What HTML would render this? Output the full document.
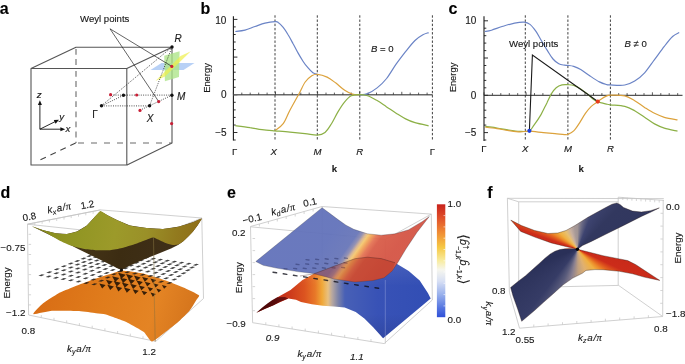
<!DOCTYPE html>
<html><head><meta charset="utf-8"><style>
html,body{margin:0;padding:0;background:#fff;}
#c{position:relative;width:685px;height:364px;overflow:hidden;background:#fff;font-family:"Liberation Sans",sans-serif;}
svg{position:absolute;left:0;top:0;}
svg text{font-family:"Liberation Sans",sans-serif;stroke:#1a1a1a;stroke-width:0.14px;}
svg{will-change:transform;}
</style></head><body><div id="c">
<svg width="685" height="364" viewBox="0 0 685 364">
<defs><linearGradient id="dor" gradientUnits="userSpaceOnUse" x1="40.0" y1="280.0" x2="200.0" y2="330.0"><stop offset="0.000" stop-color="#d86c14"/><stop offset="0.400" stop-color="#e07c1c"/><stop offset="0.700" stop-color="#e48424"/><stop offset="1.000" stop-color="#d0701a"/></linearGradient><linearGradient id="dol" gradientUnits="userSpaceOnUse" x1="30.0" y1="212.0" x2="202.0" y2="240.0"><stop offset="0.000" stop-color="#858a1c"/><stop offset="0.300" stop-color="#929624"/><stop offset="0.500" stop-color="#9c9a2a"/><stop offset="0.680" stop-color="#9a9028"/><stop offset="0.850" stop-color="#927a1e"/><stop offset="1.000" stop-color="#8e6c18"/></linearGradient><linearGradient id="ddk" gradientUnits="userSpaceOnUse" x1="60.0" y1="240.0" x2="180.0" y2="265.0"><stop offset="0.000" stop-color="#4a3a1a"/><stop offset="0.500" stop-color="#3c2c12"/><stop offset="1.000" stop-color="#40301a"/></linearGradient><linearGradient id="elo" gradientUnits="userSpaceOnUse" x1="256.0" y1="300.0" x2="430.0" y2="300.0"><stop offset="0.000" stop-color="#a82216"/><stop offset="0.100" stop-color="#c02a18"/><stop offset="0.195" stop-color="#cc3a1c"/><stop offset="0.280" stop-color="#dc5420"/><stop offset="0.340" stop-color="#e87828"/><stop offset="0.380" stop-color="#f0a838"/><stop offset="0.414" stop-color="#e8c080"/><stop offset="0.437" stop-color="#b8a8a0"/><stop offset="0.471" stop-color="#7e84a8"/><stop offset="0.511" stop-color="#4860b6"/><stop offset="0.700" stop-color="#3852b6"/><stop offset="1.000" stop-color="#324eb4"/></linearGradient><linearGradient id="elsh" gradientUnits="userSpaceOnUse" x1="0.0" y1="258.0" x2="0.0" y2="338.0"><stop offset="0.000" stop-color="#ffffff" stop-opacity="0.10"/><stop offset="0.350" stop-color="#ffffff" stop-opacity="0.00"/><stop offset="0.700" stop-color="#000020" stop-opacity="0.00"/><stop offset="1.000" stop-color="#000020" stop-opacity="0.12"/></linearGradient><linearGradient id="emr" gradientUnits="userSpaceOnUse" x1="256.0" y1="310.0" x2="290.0" y2="298.0"><stop offset="0.000" stop-color="#420606"/><stop offset="0.600" stop-color="#5a0c0c"/><stop offset="1.000" stop-color="#7a1410"/></linearGradient><linearGradient id="elh" gradientUnits="userSpaceOnUse" x1="0.0" y1="258.0" x2="0.0" y2="300.0"><stop offset="0.000" stop-color="#ffffff" stop-opacity="0.18"/><stop offset="1.000" stop-color="#ffffff" stop-opacity="0.00"/></linearGradient><linearGradient id="eup" gradientUnits="userSpaceOnUse" x1="332.6" y1="233.2" x2="381.4" y2="268.2"><stop offset="0.000" stop-color="#6272ba"/><stop offset="0.340" stop-color="#6876b8"/><stop offset="0.410" stop-color="#8e8cb0"/><stop offset="0.460" stop-color="#d8b490"/><stop offset="0.500" stop-color="#f4c870"/><stop offset="0.550" stop-color="#f0a458"/><stop offset="0.620" stop-color="#e47454"/><stop offset="0.700" stop-color="#d85c48"/><stop offset="1.000" stop-color="#d45444"/></linearGradient><linearGradient id="ecb" gradientUnits="userSpaceOnUse" x1="0.0" y1="204.3" x2="0.0" y2="317.2"><stop offset="0.000" stop-color="#c8221c"/><stop offset="0.120" stop-color="#e0502a"/><stop offset="0.250" stop-color="#f08c34"/><stop offset="0.380" stop-color="#f6c844"/><stop offset="0.500" stop-color="#f8eca0"/><stop offset="0.580" stop-color="#f6f6ee"/><stop offset="0.680" stop-color="#d8e0f4"/><stop offset="0.800" stop-color="#98b0ec"/><stop offset="0.920" stop-color="#5474e0"/><stop offset="1.000" stop-color="#3050d8"/></linearGradient></defs><text x="-0.2" y="13.5" font-size="16.0" text-anchor="start" font-weight="bold" fill="#000" >a</text><g stroke="#555555" stroke-width="1.1" fill="none" stroke-linejoin="round"><path d="M31,68.5 L126.8,68.5 L126.8,165 L31,165 Z"/><path d="M31,68.5 L76,47.2 L172,47.2 L126.8,68.5"/><path d="M172,47 L172,143 L127,165"/></g><g stroke="#6a6a6a" stroke-width="1.1" fill="none"><path d="M76,49 L76,66 M76,71 L76,143" stroke-dasharray="5.8,4.3"/><path d="M78,143 L172,143" stroke-dasharray="6,7"/><path d="M75.7,143 L39.2,160.3" stroke="#444" stroke-dasharray="6,5"/></g><g stroke="#111" stroke-width="0.9" fill="#111"><line x1="39.9" y1="129.2" x2="39.9" y2="103.5" /><path d="M39.9,100.2 L37.9,105 L41.9,105Z" stroke="none"/><line x1="39.9" y1="129.2" x2="62.0" y2="129.2" /><path d="M65.2,129.2 L60.4,127.2 L60.4,131.2Z" stroke="none"/><line x1="39.9" y1="129.2" x2="56.0" y2="121.2" /><path d="M59,119.7 L53.8,120.1 L55.6,123.7Z" stroke="none"/></g><text x="36.8" y="98.4" font-size="9.8" text-anchor="start" font-weight="normal" fill="#1a1a1a" font-style="italic" >z</text><text x="65.6" y="132.4" font-size="9.8" text-anchor="start" font-weight="normal" fill="#1a1a1a" font-style="italic" >x</text><text x="59.3" y="120.2" font-size="9.8" text-anchor="start" font-weight="normal" fill="#1a1a1a" font-style="italic" >y</text><path d="M150.5,70 L161.5,63 L194.5,63 L183.5,70Z" fill="#a6c6f4" fill-opacity="0.8"/><path d="M164.2,55.8 L179.6,51.3 L179,77 L164.9,81.2Z" fill="#ace486" fill-opacity="0.78"/><path d="M155.5,81 L165,76.5 L190.5,51.5 L180.5,56Z" fill="#eef04a" fill-opacity="0.7"/><g stroke="#222" stroke-width="0.8" fill="none" stroke-dasharray="1,1.3"><line x1="101.5" y1="105.9" x2="149.6" y2="105.9" /><line x1="101.5" y1="105.9" x2="123.7" y2="95.2" /><line x1="110.9" y1="95.1" x2="171.9" y2="95.1" /><line x1="140.0" y1="110.2" x2="171.9" y2="95.2" /><line x1="101.5" y1="105.7" x2="172.0" y2="47.0" /><line x1="149.6" y1="105.7" x2="172.0" y2="47.0" /></g><g stroke="#222" stroke-width="0.7"><line x1="110.0" y1="28.8" x2="171.8" y2="66.4" /><line x1="110.0" y1="28.8" x2="158.7" y2="101.6" /></g><text x="80.0" y="21.6" font-size="9.6" text-anchor="start" font-weight="normal" fill="#1a1a1a" >Weyl points</text><circle cx="101.5" cy="105.7" r="1.7" fill="#111"/><circle cx="123.5" cy="95.3" r="1.7" fill="#111"/><circle cx="171.9" cy="95.3" r="1.7" fill="#111"/><circle cx="149.6" cy="105.7" r="1.7" fill="#111"/><circle cx="172.0" cy="47.0" r="1.7" fill="#111"/><circle cx="110.6" cy="94.7" r="1.6" fill="#c81f36"/><circle cx="136.7" cy="95.0" r="1.6" fill="#c81f36"/><circle cx="158.7" cy="101.6" r="1.6" fill="#c81f36"/><circle cx="140.0" cy="110.4" r="1.6" fill="#c81f36"/><circle cx="171.6" cy="123.6" r="1.6" fill="#c81f36"/><circle cx="171.8" cy="66.4" r="1.6" fill="#c81f36"/><text x="174.5" y="42.0" font-size="10.0" text-anchor="start" font-weight="normal" fill="#1a1a1a" font-style="italic" >R</text><text x="177.0" y="99.6" font-size="10.0" text-anchor="start" font-weight="normal" fill="#1a1a1a" font-style="italic" >M</text><text x="146.8" y="121.6" font-size="10.0" text-anchor="start" font-weight="normal" fill="#1a1a1a" font-style="italic" >X</text><text x="92.2" y="117.8" font-size="10.0" text-anchor="start" font-weight="normal" fill="#1a1a1a" >Γ</text><text x="200.6" y="13.7" font-size="16.0" text-anchor="start" font-weight="bold" fill="#000" >b</text><line x1="233.4" y1="16.3" x2="233.4" y2="140.5" stroke="#1a1a1a" stroke-width="1.1"/><line x1="233.4" y1="140.0" x2="235.7" y2="140.0" stroke="#1a1a1a" stroke-width="0.9"/><line x1="233.4" y1="132.5" x2="237.4" y2="132.5" stroke="#1a1a1a" stroke-width="0.9"/><line x1="233.4" y1="125.0" x2="235.7" y2="125.0" stroke="#1a1a1a" stroke-width="0.9"/><line x1="233.4" y1="117.4" x2="235.7" y2="117.4" stroke="#1a1a1a" stroke-width="0.9"/><line x1="233.4" y1="109.9" x2="235.7" y2="109.9" stroke="#1a1a1a" stroke-width="0.9"/><line x1="233.4" y1="102.3" x2="235.7" y2="102.3" stroke="#1a1a1a" stroke-width="0.9"/><line x1="233.4" y1="94.8" x2="237.4" y2="94.8" stroke="#1a1a1a" stroke-width="0.9"/><line x1="233.4" y1="87.3" x2="235.7" y2="87.3" stroke="#1a1a1a" stroke-width="0.9"/><line x1="233.4" y1="79.7" x2="235.7" y2="79.7" stroke="#1a1a1a" stroke-width="0.9"/><line x1="233.4" y1="72.2" x2="235.7" y2="72.2" stroke="#1a1a1a" stroke-width="0.9"/><line x1="233.4" y1="64.6" x2="235.7" y2="64.6" stroke="#1a1a1a" stroke-width="0.9"/><line x1="233.4" y1="57.1" x2="237.4" y2="57.1" stroke="#1a1a1a" stroke-width="0.9"/><line x1="233.4" y1="49.6" x2="235.7" y2="49.6" stroke="#1a1a1a" stroke-width="0.9"/><line x1="233.4" y1="42.0" x2="235.7" y2="42.0" stroke="#1a1a1a" stroke-width="0.9"/><line x1="233.4" y1="34.5" x2="235.7" y2="34.5" stroke="#1a1a1a" stroke-width="0.9"/><line x1="233.4" y1="26.9" x2="235.7" y2="26.9" stroke="#1a1a1a" stroke-width="0.9"/><line x1="233.4" y1="19.4" x2="237.4" y2="19.4" stroke="#1a1a1a" stroke-width="0.9"/><line x1="233.4" y1="94.8" x2="432.7" y2="94.8" stroke="#6a6a6a" stroke-width="1.4"/><line x1="233.4" y1="94.8" x2="233.4" y2="91.8" stroke="#333" stroke-width="0.8"/><line x1="241.8" y1="94.8" x2="241.8" y2="92.6" stroke="#333" stroke-width="0.8"/><line x1="250.2" y1="94.8" x2="250.2" y2="92.6" stroke="#333" stroke-width="0.8"/><line x1="258.7" y1="94.8" x2="258.7" y2="92.6" stroke="#333" stroke-width="0.8"/><line x1="267.1" y1="94.8" x2="267.1" y2="92.6" stroke="#333" stroke-width="0.8"/><line x1="275.5" y1="94.8" x2="275.5" y2="91.8" stroke="#333" stroke-width="0.8"/><line x1="283.9" y1="94.8" x2="283.9" y2="92.6" stroke="#333" stroke-width="0.8"/><line x1="292.3" y1="94.8" x2="292.3" y2="92.6" stroke="#333" stroke-width="0.8"/><line x1="300.8" y1="94.8" x2="300.8" y2="92.6" stroke="#333" stroke-width="0.8"/><line x1="309.2" y1="94.8" x2="309.2" y2="92.6" stroke="#333" stroke-width="0.8"/><line x1="317.6" y1="94.8" x2="317.6" y2="91.8" stroke="#333" stroke-width="0.8"/><line x1="326.0" y1="94.8" x2="326.0" y2="92.6" stroke="#333" stroke-width="0.8"/><line x1="334.4" y1="94.8" x2="334.4" y2="92.6" stroke="#333" stroke-width="0.8"/><line x1="342.9" y1="94.8" x2="342.9" y2="92.6" stroke="#333" stroke-width="0.8"/><line x1="351.3" y1="94.8" x2="351.3" y2="92.6" stroke="#333" stroke-width="0.8"/><line x1="359.7" y1="94.8" x2="359.7" y2="91.8" stroke="#333" stroke-width="0.8"/><line x1="368.1" y1="94.8" x2="368.1" y2="92.6" stroke="#333" stroke-width="0.8"/><line x1="376.5" y1="94.8" x2="376.5" y2="92.6" stroke="#333" stroke-width="0.8"/><line x1="385.0" y1="94.8" x2="385.0" y2="92.6" stroke="#333" stroke-width="0.8"/><line x1="393.4" y1="94.8" x2="393.4" y2="92.6" stroke="#333" stroke-width="0.8"/><line x1="401.8" y1="94.8" x2="401.8" y2="91.8" stroke="#333" stroke-width="0.8"/><line x1="410.2" y1="94.8" x2="410.2" y2="92.6" stroke="#333" stroke-width="0.8"/><line x1="418.6" y1="94.8" x2="418.6" y2="92.6" stroke="#333" stroke-width="0.8"/><line x1="427.1" y1="94.8" x2="427.1" y2="92.6" stroke="#333" stroke-width="0.8"/><line x1="275.0" y1="15.3" x2="275.0" y2="140.0" stroke="#2a2a2a" stroke-width="0.9" stroke-dasharray="2.4,1.8"/><line x1="317.3" y1="15.3" x2="317.3" y2="140.0" stroke="#2a2a2a" stroke-width="0.9" stroke-dasharray="2.4,1.8"/><line x1="359.8" y1="15.3" x2="359.8" y2="140.0" stroke="#2a2a2a" stroke-width="0.9" stroke-dasharray="2.4,1.8"/><line x1="432.4" y1="15.3" x2="432.4" y2="140.0" stroke="#2a2a2a" stroke-width="0.9" stroke-dasharray="2.4,1.8"/><path d="M235.3,31.5 C236.9,31.3 241.7,30.9 245.0,30.1 C248.3,29.3 251.7,27.6 255.0,26.5 C258.3,25.4 261.7,24.0 265.0,23.2 C268.3,22.4 272.8,21.8 275.0,21.7 C277.2,21.6 276.8,21.4 278.2,22.4 C279.6,23.3 281.5,25.3 283.2,27.4 C284.9,29.5 286.5,32.1 288.1,34.8 C289.8,37.5 291.5,40.8 293.1,43.8 C294.8,46.8 296.4,50.0 298.0,52.9 C299.6,55.8 301.4,58.7 303.0,61.2 C304.6,63.7 306.2,65.8 307.9,67.7 C309.5,69.6 311.3,71.6 312.9,72.7 C314.5,73.8 316.6,74.0 317.3,74.2" fill="none" stroke="#6b84c6" stroke-width="1.2"/><path d="M359.7,94.9 C361.0,94.7 364.7,94.8 367.6,93.6 C370.5,92.4 373.9,90.4 377.1,87.9 C380.3,85.4 383.4,82.5 386.6,78.5 C389.8,74.5 392.9,68.7 396.1,64.2 C399.3,59.7 402.5,55.6 405.6,51.6 C408.8,47.6 412.1,43.3 415.0,40.5 C417.9,37.7 420.6,36.1 422.9,34.8 C425.2,33.5 427.7,33.0 428.6,32.6" fill="none" stroke="#6b84c6" stroke-width="1.2"/><path d="M275.0,130.8 C276.4,129.6 280.7,127.1 283.2,123.7 C285.7,120.3 287.2,115.4 289.8,110.5 C292.4,105.6 296.0,99.2 298.6,94.5 C301.2,89.8 303.0,85.1 305.2,82.0 C307.4,78.9 309.8,77.1 311.8,75.8 C313.8,74.5 314.8,74.1 317.3,74.3 C319.9,74.5 324.0,75.6 327.1,77.1 C330.2,78.6 333.0,80.9 335.9,83.1 C338.8,85.3 341.9,88.5 344.7,90.3 C347.4,92.1 349.9,93.4 352.4,94.1 C354.9,94.8 358.5,94.6 359.7,94.7" fill="none" stroke="#dca23c" stroke-width="1.2"/><path d="M235.3,125.7 C237.8,126.0 245.6,126.9 250.0,127.6 C254.4,128.2 257.8,129.1 262.0,129.6 C266.2,130.1 270.3,130.4 275.0,130.8 C279.7,131.2 285.0,131.6 290.0,132.1 C295.0,132.6 300.4,133.1 305.0,133.6 C309.6,134.1 314.0,135.4 317.3,135.2 C320.6,135.0 322.6,134.4 325.0,132.5 C327.4,130.6 329.3,127.2 331.5,123.7 C333.7,120.2 335.9,115.2 338.1,111.6 C340.3,107.9 342.5,104.4 344.7,101.8 C346.9,99.2 348.8,97.0 351.3,95.8 C353.8,94.6 357.0,94.6 359.7,94.6 C362.4,94.6 364.7,94.8 367.6,95.8 C370.5,96.8 373.9,98.8 377.1,100.6 C380.3,102.4 383.4,104.8 386.6,106.9 C389.8,109.0 392.9,111.2 396.1,113.2 C399.3,115.2 402.5,117.3 405.6,118.9 C408.8,120.5 411.2,121.6 415.0,122.7 C418.8,123.8 426.3,125.3 428.6,125.8" fill="none" stroke="#8cb046" stroke-width="1.2"/><text x="226.4" y="23.8" font-size="10.0" text-anchor="end" font-weight="normal" fill="#1a1a1a" >10</text><text x="226.6" y="98.4" font-size="10.0" text-anchor="end" font-weight="normal" fill="#1a1a1a" >0</text><text x="226.6" y="135.6" font-size="10.0" text-anchor="end" font-weight="normal" fill="#1a1a1a" >−5</text><text x="209.8" y="78.0" font-size="9.4" text-anchor="middle" font-weight="normal" fill="#1a1a1a" transform="rotate(-90 209.8 78)">Energy</text><text x="371.0" y="51.6" font-size="9.6" text-anchor="start" font-weight="normal" fill="#1a1a1a" ><tspan font-style="italic">B</tspan> = 0</text><text x="234.6" y="154.8" font-size="9.6" text-anchor="middle" font-weight="normal" fill="#1a1a1a" >Γ</text><text x="273.8" y="154.8" font-size="9.6" text-anchor="middle" font-weight="normal" fill="#1a1a1a" font-style="italic" >X</text><text x="317.5" y="154.8" font-size="9.6" text-anchor="middle" font-weight="normal" fill="#1a1a1a" font-style="italic" >M</text><text x="359.8" y="154.8" font-size="9.6" text-anchor="middle" font-weight="normal" fill="#1a1a1a" font-style="italic" >R</text><text x="432.4" y="154.8" font-size="9.6" text-anchor="middle" font-weight="normal" fill="#1a1a1a" >Γ</text><text x="334.4" y="171.8" font-size="9.6" text-anchor="middle" font-weight="bold" fill="#1a1a1a" >k</text><text x="448.6" y="13.6" font-size="16.0" text-anchor="start" font-weight="bold" fill="#000" >c</text><line x1="484.0" y1="16.2" x2="484.0" y2="141.0" stroke="#1a1a1a" stroke-width="1.1"/><line x1="484.0" y1="140.0" x2="486.3" y2="140.0" stroke="#1a1a1a" stroke-width="0.9"/><line x1="484.0" y1="132.6" x2="488.0" y2="132.6" stroke="#1a1a1a" stroke-width="0.9"/><line x1="484.0" y1="125.1" x2="486.3" y2="125.1" stroke="#1a1a1a" stroke-width="0.9"/><line x1="484.0" y1="117.7" x2="486.3" y2="117.7" stroke="#1a1a1a" stroke-width="0.9"/><line x1="484.0" y1="110.2" x2="486.3" y2="110.2" stroke="#1a1a1a" stroke-width="0.9"/><line x1="484.0" y1="102.8" x2="486.3" y2="102.8" stroke="#1a1a1a" stroke-width="0.9"/><line x1="484.0" y1="95.3" x2="488.0" y2="95.3" stroke="#1a1a1a" stroke-width="0.9"/><line x1="484.0" y1="87.8" x2="486.3" y2="87.8" stroke="#1a1a1a" stroke-width="0.9"/><line x1="484.0" y1="80.4" x2="486.3" y2="80.4" stroke="#1a1a1a" stroke-width="0.9"/><line x1="484.0" y1="72.9" x2="486.3" y2="72.9" stroke="#1a1a1a" stroke-width="0.9"/><line x1="484.0" y1="65.5" x2="486.3" y2="65.5" stroke="#1a1a1a" stroke-width="0.9"/><line x1="484.0" y1="58.0" x2="488.0" y2="58.0" stroke="#1a1a1a" stroke-width="0.9"/><line x1="484.0" y1="50.6" x2="486.3" y2="50.6" stroke="#1a1a1a" stroke-width="0.9"/><line x1="484.0" y1="43.1" x2="486.3" y2="43.1" stroke="#1a1a1a" stroke-width="0.9"/><line x1="484.0" y1="35.7" x2="486.3" y2="35.7" stroke="#1a1a1a" stroke-width="0.9"/><line x1="484.0" y1="28.2" x2="486.3" y2="28.2" stroke="#1a1a1a" stroke-width="0.9"/><line x1="484.0" y1="20.8" x2="488.0" y2="20.8" stroke="#1a1a1a" stroke-width="0.9"/><line x1="484.0" y1="95.3" x2="682.5" y2="95.3" stroke="#2a2a2a" stroke-width="1.0"/><line x1="484.0" y1="95.3" x2="484.0" y2="92.3" stroke="#333" stroke-width="0.8"/><line x1="492.4" y1="95.3" x2="492.4" y2="93.1" stroke="#333" stroke-width="0.8"/><line x1="500.8" y1="95.3" x2="500.8" y2="93.1" stroke="#333" stroke-width="0.8"/><line x1="509.3" y1="95.3" x2="509.3" y2="93.1" stroke="#333" stroke-width="0.8"/><line x1="517.7" y1="95.3" x2="517.7" y2="93.1" stroke="#333" stroke-width="0.8"/><line x1="526.1" y1="95.3" x2="526.1" y2="92.3" stroke="#333" stroke-width="0.8"/><line x1="534.5" y1="95.3" x2="534.5" y2="93.1" stroke="#333" stroke-width="0.8"/><line x1="542.9" y1="95.3" x2="542.9" y2="93.1" stroke="#333" stroke-width="0.8"/><line x1="551.4" y1="95.3" x2="551.4" y2="93.1" stroke="#333" stroke-width="0.8"/><line x1="559.8" y1="95.3" x2="559.8" y2="93.1" stroke="#333" stroke-width="0.8"/><line x1="568.2" y1="95.3" x2="568.2" y2="92.3" stroke="#333" stroke-width="0.8"/><line x1="576.6" y1="95.3" x2="576.6" y2="93.1" stroke="#333" stroke-width="0.8"/><line x1="585.0" y1="95.3" x2="585.0" y2="93.1" stroke="#333" stroke-width="0.8"/><line x1="593.5" y1="95.3" x2="593.5" y2="93.1" stroke="#333" stroke-width="0.8"/><line x1="601.9" y1="95.3" x2="601.9" y2="93.1" stroke="#333" stroke-width="0.8"/><line x1="610.3" y1="95.3" x2="610.3" y2="92.3" stroke="#333" stroke-width="0.8"/><line x1="618.7" y1="95.3" x2="618.7" y2="93.1" stroke="#333" stroke-width="0.8"/><line x1="627.1" y1="95.3" x2="627.1" y2="93.1" stroke="#333" stroke-width="0.8"/><line x1="635.6" y1="95.3" x2="635.6" y2="93.1" stroke="#333" stroke-width="0.8"/><line x1="644.0" y1="95.3" x2="644.0" y2="93.1" stroke="#333" stroke-width="0.8"/><line x1="652.4" y1="95.3" x2="652.4" y2="92.3" stroke="#333" stroke-width="0.8"/><line x1="660.8" y1="95.3" x2="660.8" y2="93.1" stroke="#333" stroke-width="0.8"/><line x1="669.2" y1="95.3" x2="669.2" y2="93.1" stroke="#333" stroke-width="0.8"/><line x1="677.7" y1="95.3" x2="677.7" y2="93.1" stroke="#333" stroke-width="0.8"/><line x1="525.3" y1="15.3" x2="525.3" y2="139.5" stroke="#2a2a2a" stroke-width="0.9" stroke-dasharray="2.4,1.8"/><line x1="567.9" y1="15.3" x2="567.9" y2="139.5" stroke="#2a2a2a" stroke-width="0.9" stroke-dasharray="2.4,1.8"/><line x1="610.4" y1="15.3" x2="610.4" y2="139.5" stroke="#2a2a2a" stroke-width="0.9" stroke-dasharray="2.4,1.8"/><path d="M484.8,31.5 C485.9,31.3 488.5,31.1 491.5,30.2 C494.5,29.3 499.1,27.5 503.0,26.3 C506.9,25.1 511.1,23.8 514.6,23.1 C518.1,22.4 521.6,21.9 524.2,22.1 C526.8,22.3 528.1,22.9 530.0,24.4 C531.9,25.9 533.9,28.5 535.8,31.2 C537.7,33.9 539.6,37.6 541.5,40.8 C543.4,44.0 545.4,47.4 547.3,50.4 C549.2,53.4 551.1,56.8 553.0,59.0 C554.9,61.2 556.9,62.8 558.8,63.8 C560.7,64.8 563.1,64.9 564.6,65.2 C566.1,65.5 566.5,65.2 568.0,65.4 C569.5,65.6 571.6,65.7 573.7,66.4 C575.8,67.1 578.0,67.9 580.7,69.5 C583.4,71.1 587.0,73.9 590.1,76.0 C593.2,78.1 596.7,80.5 599.4,81.9 C602.1,83.3 604.6,84.0 606.4,84.5 C608.2,85.0 607.3,84.8 610.4,84.9 C613.5,85.0 620.8,85.7 624.8,85.0 C628.8,84.3 631.4,83.0 634.7,81.0 C638.0,79.0 641.3,76.4 644.6,72.8 C647.9,69.2 651.2,64.0 654.5,59.6 C657.8,55.2 661.3,50.2 664.3,46.4 C667.3,42.5 670.1,38.8 672.6,36.5 C675.1,34.2 678.1,33.2 679.2,32.5" fill="none" stroke="#6b84c6" stroke-width="1.2"/><path d="M485.3,126.4 C487.2,126.7 493.1,127.4 497.0,128.0 C500.9,128.6 505.0,129.4 508.8,130.0 C512.6,130.6 516.6,131.2 520.0,131.3 C523.4,131.5 527.0,131.9 529.3,130.9 C531.6,129.9 532.0,127.8 534.0,125.1 C536.0,122.4 538.9,118.3 541.0,114.6 C543.1,110.9 545.1,106.4 546.9,102.9 C548.6,99.4 550.0,96.1 551.5,93.6 C553.0,91.1 554.5,89.2 556.2,87.7 C558.0,86.2 560.0,85.4 562.0,84.9 C564.0,84.4 565.9,84.6 567.9,84.7 C569.9,84.8 571.6,84.7 573.7,85.4 C575.8,86.1 578.4,87.4 580.7,88.9 C583.1,90.4 585.6,92.5 587.8,94.3 C589.9,96.0 591.9,98.2 593.6,99.4 C595.3,100.6 596.4,101.1 597.8,101.7 C599.2,102.3 600.4,102.5 601.8,102.9 C603.2,103.3 605.0,103.8 606.4,104.1 C607.8,104.4 607.3,104.4 610.4,104.8 C613.5,105.2 620.8,105.4 624.8,106.4 C628.8,107.4 631.4,108.9 634.7,110.7 C638.0,112.5 641.3,115.1 644.6,117.3 C647.9,119.5 651.2,122.1 654.5,123.9 C657.8,125.7 660.5,126.9 664.3,128.1 C668.1,129.3 675.3,130.6 677.5,131.1" fill="none" stroke="#8cb046" stroke-width="1.2"/><path d="M485.3,127.2 C487.2,127.4 493.1,128.0 497.0,128.6 C500.9,129.2 505.0,130.1 508.8,130.6 C512.6,131.1 516.6,131.7 520.0,131.8 C523.4,131.9 525.4,131.1 529.3,131.2 C533.2,131.3 539.1,132.2 543.4,132.6 C547.7,133.0 551.5,133.4 555.0,133.7 C558.5,134.0 562.2,134.5 564.4,134.6 C566.5,134.7 566.3,135.0 567.9,134.4 C569.5,133.8 571.8,132.8 573.7,130.9 C575.7,129.0 577.7,125.7 579.6,122.8 C581.5,119.9 583.5,116.1 585.4,113.4 C587.3,110.7 589.2,108.4 591.3,106.4 C593.4,104.5 596.2,102.9 597.8,101.7 C599.3,100.5 599.4,100.2 600.6,99.4 C601.9,98.6 603.7,97.3 605.3,96.6 C606.9,95.9 607.1,95.3 610.4,95.2 C613.6,95.1 620.8,94.9 624.8,95.8 C628.8,96.7 631.4,98.9 634.7,100.8 C638.0,102.7 641.3,105.3 644.6,107.4 C647.9,109.5 651.2,111.7 654.5,113.3 C657.8,114.9 660.5,116.2 664.3,117.3 C668.1,118.4 675.3,119.5 677.5,119.9" fill="none" stroke="#dca23c" stroke-width="1.2"/><path d="M529.4,130.6 L532.4,55 L597.8,101.5" fill="none" stroke="#1a1a1a" stroke-width="1.1"/><circle cx="529.4" cy="130.8" r="2.1" fill="#2040e0"/><circle cx="597.8" cy="101.6" r="2.1" fill="#e83a1c"/><text x="509.0" y="46.6" font-size="9.6" text-anchor="start" font-weight="normal" fill="#1a1a1a" >Weyl points</text><text x="476.4" y="24.4" font-size="10.0" text-anchor="end" font-weight="normal" fill="#1a1a1a" >10</text><text x="476.3" y="98.8" font-size="10.0" text-anchor="end" font-weight="normal" fill="#1a1a1a" >0</text><text x="476.3" y="136.0" font-size="10.0" text-anchor="end" font-weight="normal" fill="#1a1a1a" >−5</text><text x="456.0" y="77.5" font-size="9.4" text-anchor="middle" font-weight="normal" fill="#1a1a1a" transform="rotate(-90 456 77.5)">Energy</text><text x="624.5" y="46.8" font-size="9.6" text-anchor="start" font-weight="normal" fill="#1a1a1a" ><tspan font-style="italic">B</tspan> ≠ 0</text><text x="483.8" y="151.9" font-size="9.6" text-anchor="middle" font-weight="normal" fill="#1a1a1a" >Γ</text><text x="525.3" y="151.9" font-size="9.6" text-anchor="middle" font-weight="normal" fill="#1a1a1a" font-style="italic" >X</text><text x="567.9" y="151.9" font-size="9.6" text-anchor="middle" font-weight="normal" fill="#1a1a1a" font-style="italic" >M</text><text x="610.4" y="151.9" font-size="9.6" text-anchor="middle" font-weight="normal" fill="#1a1a1a" font-style="italic" >R</text><text x="581.2" y="172.0" font-size="9.6" text-anchor="middle" font-weight="bold" fill="#1a1a1a" >k</text><text x="0.4" y="198.2" font-size="16.0" text-anchor="start" font-weight="bold" fill="#000" >d</text><g stroke="#c4c4c4" stroke-width="0.8" fill="none"><path d="M27.5,224.2 L100.4,209.9 L201.8,218 L203.5,298.5 L155.7,341.4 L28.6,315 Z"/><line x1="27.5" y1="224.2" x2="153.0" y2="237.6" /><line x1="153.0" y1="237.6" x2="201.8" y2="218.0" /><line x1="153.5" y1="237.6" x2="155.2" y2="341.4" /></g><line x1="34.8" y1="222.8" x2="34.8" y2="225.3" stroke="#c4c4c4" stroke-width="0.7"/><line x1="42.1" y1="221.3" x2="42.1" y2="223.8" stroke="#c4c4c4" stroke-width="0.7"/><line x1="49.4" y1="219.9" x2="49.4" y2="222.4" stroke="#c4c4c4" stroke-width="0.7"/><line x1="56.7" y1="218.5" x2="56.7" y2="221.0" stroke="#c4c4c4" stroke-width="0.7"/><line x1="64.0" y1="217.1" x2="64.0" y2="219.6" stroke="#c4c4c4" stroke-width="0.7"/><line x1="71.2" y1="215.6" x2="71.2" y2="218.1" stroke="#c4c4c4" stroke-width="0.7"/><line x1="78.5" y1="214.2" x2="78.5" y2="216.7" stroke="#c4c4c4" stroke-width="0.7"/><line x1="85.8" y1="212.8" x2="85.8" y2="215.3" stroke="#c4c4c4" stroke-width="0.7"/><line x1="93.1" y1="211.3" x2="93.1" y2="213.8" stroke="#c4c4c4" stroke-width="0.7"/><line x1="41.3" y1="317.6" x2="41.3" y2="315.1" stroke="#c4c4c4" stroke-width="0.7"/><line x1="54.0" y1="320.3" x2="54.0" y2="317.8" stroke="#c4c4c4" stroke-width="0.7"/><line x1="66.7" y1="322.9" x2="66.7" y2="320.4" stroke="#c4c4c4" stroke-width="0.7"/><line x1="79.4" y1="325.6" x2="79.4" y2="323.1" stroke="#c4c4c4" stroke-width="0.7"/><line x1="92.2" y1="328.2" x2="92.2" y2="325.7" stroke="#c4c4c4" stroke-width="0.7"/><line x1="104.9" y1="330.8" x2="104.9" y2="328.3" stroke="#c4c4c4" stroke-width="0.7"/><line x1="117.6" y1="333.5" x2="117.6" y2="331.0" stroke="#c4c4c4" stroke-width="0.7"/><line x1="130.3" y1="336.1" x2="130.3" y2="333.6" stroke="#c4c4c4" stroke-width="0.7"/><line x1="143.0" y1="338.8" x2="143.0" y2="336.3" stroke="#c4c4c4" stroke-width="0.7"/><line x1="28.6" y1="234.3" x2="31.1" y2="234.3" stroke="#c4c4c4" stroke-width="0.7"/><line x1="28.6" y1="244.4" x2="31.1" y2="244.4" stroke="#c4c4c4" stroke-width="0.7"/><line x1="28.6" y1="254.5" x2="31.1" y2="254.5" stroke="#c4c4c4" stroke-width="0.7"/><line x1="28.6" y1="264.6" x2="31.1" y2="264.6" stroke="#c4c4c4" stroke-width="0.7"/><line x1="28.6" y1="274.6" x2="31.1" y2="274.6" stroke="#c4c4c4" stroke-width="0.7"/><line x1="28.6" y1="284.7" x2="31.1" y2="284.7" stroke="#c4c4c4" stroke-width="0.7"/><line x1="28.6" y1="294.8" x2="31.1" y2="294.8" stroke="#c4c4c4" stroke-width="0.7"/><line x1="28.6" y1="304.9" x2="31.1" y2="304.9" stroke="#c4c4c4" stroke-width="0.7"/><path d="M33.3,314.1 C32.6,313.5 41.0,305.0 43.1,303.3 C45.2,301.6 55.7,294.9 58.2,293.5 C60.7,292.1 70.8,288.0 73.3,287.0 C75.8,286.0 85.9,282.1 88.4,281.2 C90.9,280.3 101.3,276.7 103.5,276.0 C105.7,275.3 113.5,272.8 115.0,272.4 C116.5,272.0 120.2,270.9 121.5,270.8 C122.8,270.7 128.2,271.3 130.0,271.5 C131.8,271.7 140.9,273.0 143.0,273.5 C145.1,274.0 152.9,276.4 155.0,277.0 C157.1,277.6 165.3,280.3 167.7,281.2 C170.1,282.1 181.8,286.8 184.1,287.8 C186.4,288.8 193.7,292.3 195.0,293.0 C196.3,293.7 199.1,295.1 199.2,295.7 C199.3,296.3 197.3,298.5 196.5,299.7 C195.7,300.9 191.2,308.7 189.7,310.5 C188.2,312.3 180.9,319.5 178.9,321.3 C176.9,323.1 167.7,330.4 165.4,332.1 C163.2,333.8 153.7,341.6 151.9,341.6 C150.1,341.6 145.8,333.7 143.8,332.1 C141.8,330.5 130.8,324.2 127.6,322.7 C124.4,321.2 108.6,315.4 106.0,314.6 C103.4,313.8 98.2,313.6 96.0,313.3 C93.8,313.0 82.7,311.2 79.0,311.0 C75.3,310.8 55.8,310.5 52.0,310.8 C48.2,311.1 34.0,314.7 33.3,314.1Z" fill="url(#dor)"/><line x1="154.2" y1="296.0" x2="155.2" y2="341.4" stroke="#b05a10" stroke-width="0.7" stroke-opacity="0.6"/><path d="M99.3,283.5 l6.3,1.6 l-3.5,3.3 Z M107.3,284.8 l6.6,1.7 l-3.7,3.4 Z M115.5,286.1 l6.7,1.8 l-3.8,3.5 Z M123.9,287.6 l6.6,1.7 l-3.7,3.4 Z M132.6,289.2 l6.2,1.6 l-3.5,3.3 Z M141.5,290.8 l5.8,1.5 l-3.3,3.0 Z M150.5,292.5 l5.3,1.4 l-3.0,2.8 Z M105.9,279.7 l6.8,1.8 l-3.8,3.5 Z M113.7,281.0 l7.0,1.8 l-4.0,3.7 Z M121.8,282.4 l6.9,1.8 l-3.9,3.6 Z M130.2,283.8 l6.6,1.7 l-3.7,3.4 Z M138.8,285.4 l6.1,1.6 l-3.5,3.2 Z M147.5,287.0 l5.6,1.5 l-3.2,2.9 Z M156.3,288.6 l5.1,1.3 l-2.9,2.7 Z M112.1,276.2 l7.2,1.9 l-4.1,3.8 Z M119.9,277.4 l7.3,1.9 l-4.1,3.8 Z M128.0,278.8 l6.9,1.8 l-3.9,3.6 Z M136.3,280.3 l6.5,1.7 l-3.6,3.4 Z M144.7,281.8 l5.9,1.5 l-3.4,3.1 Z M153.2,283.3 l5.4,1.4 l-3.1,2.8 Z M161.9,284.9 l4.9,1.3 l-2.7,2.5 Z M118.1,272.8 l7.6,2.0 l-4.3,4.0 Z M125.9,274.1 l7.2,1.9 l-4.1,3.8 Z M133.9,275.6 l6.7,1.8 l-3.8,3.5 Z M142.1,277.0 l6.2,1.6 l-3.5,3.2 Z M150.4,278.4 l5.7,1.5 l-3.2,3.0 Z" fill="#1a0e04" opacity="0.85"/><path d="M38.4,275.8 L41.8,274.3 L44.6,274.8 L41.4,276.3 Z M45.6,277.0 L49.0,275.5 L51.8,276.0 L48.6,277.5 Z M52.9,278.3 L56.3,276.8 L59.1,277.3 L55.9,278.8 Z M60.4,279.5 L63.8,278.0 L66.6,278.5 L63.4,280.0 Z M67.9,280.8 L71.3,279.3 L74.1,279.8 L70.9,281.3 Z M75.5,282.1 L78.9,280.6 L81.7,281.1 L78.5,282.6 Z M83.3,283.5 L86.7,282.0 L89.5,282.5 L86.3,284.0 Z M91.2,284.8 L94.6,283.3 L97.4,283.8 L94.2,285.3 Z M46.2,272.7 L49.6,271.2 L52.4,271.7 L49.2,273.2 Z M53.3,273.8 L56.7,272.3 L59.5,272.8 L56.3,274.3 Z M60.5,275.0 L63.9,273.5 L66.7,274.0 L63.5,275.5 Z M67.8,276.3 L71.2,274.8 L74.0,275.3 L70.8,276.8 Z M75.2,277.5 L78.6,276.0 L81.4,276.5 L78.2,278.0 Z M82.7,278.7 L86.1,277.2 L88.9,277.7 L85.7,279.2 Z M90.3,280.0 L93.7,278.5 L96.5,279.0 L93.3,280.5 Z M98.1,281.3 L101.5,279.8 L104.3,280.3 L101.1,281.8 Z M53.7,269.7 L57.1,268.2 L59.9,268.7 L56.7,270.2 Z M60.7,270.8 L64.1,269.3 L66.9,269.8 L63.7,271.3 Z M67.7,271.9 L71.1,270.4 L73.9,270.9 L70.7,272.4 Z M74.9,273.1 L78.3,271.6 L81.1,272.1 L77.9,273.6 Z M82.2,274.3 L85.6,272.8 L88.4,273.3 L85.2,274.8 Z M89.6,275.5 L93.0,274.0 L95.8,274.5 L92.6,276.0 Z M97.1,276.7 L100.5,275.2 L103.3,275.7 L100.1,277.2 Z M104.6,277.9 L108.0,276.4 L110.8,276.9 L107.6,278.4 Z M60.8,266.8 L64.2,265.3 L67.0,265.8 L63.8,267.3 Z M67.7,267.9 L71.1,266.4 L73.9,266.9 L70.7,268.4 Z M74.6,269.0 L78.0,267.5 L80.8,268.0 L77.6,269.5 Z M81.7,270.1 L85.1,268.6 L87.9,269.1 L84.7,270.6 Z M88.8,271.2 L92.2,269.7 L95.0,270.2 L91.8,271.7 Z M96.1,272.4 L99.5,270.9 L102.3,271.4 L99.1,272.9 Z M103.5,273.6 L106.9,272.1 L109.7,272.6 L106.5,274.1 Z M110.9,274.7 L114.3,273.2 L117.1,273.7 L113.9,275.2 Z M158.0,282.2 L161.4,280.7 L164.2,281.2 L161.0,282.7 Z M166.3,283.5 L169.7,282.0 L172.5,282.5 L169.3,284.0 Z M67.6,264.1 L71.0,262.6 L73.8,263.1 L70.6,264.6 Z M74.4,265.1 L77.8,263.6 L80.6,264.1 L77.4,265.6 Z M81.2,266.2 L84.6,264.7 L87.4,265.2 L84.2,266.7 Z M88.2,267.2 L91.6,265.7 L94.4,266.2 L91.2,267.7 Z M95.2,268.3 L98.6,266.8 L101.4,267.3 L98.2,268.8 Z M102.3,269.4 L105.7,267.9 L108.5,268.4 L105.3,269.9 Z M109.6,270.6 L113.0,269.1 L115.8,269.6 L112.6,271.1 Z M116.9,271.7 L120.3,270.2 L123.1,270.7 L119.9,272.2 Z M124.3,272.8 L127.7,271.3 L130.5,271.8 L127.3,273.3 Z M131.9,274.0 L135.3,272.5 L138.1,273.0 L134.9,274.5 Z M139.5,275.2 L142.9,273.7 L145.7,274.2 L142.5,275.7 Z M147.3,276.4 L150.7,274.9 L153.5,275.4 L150.3,276.9 Z M155.1,277.6 L158.5,276.1 L161.3,276.6 L158.1,278.1 Z M163.1,278.8 L166.5,277.3 L169.3,277.8 L166.1,279.3 Z M171.2,280.1 L174.6,278.6 L177.4,279.1 L174.2,280.6 Z M74.1,261.4 L77.5,259.9 L80.3,260.4 L77.1,261.9 Z M80.8,262.5 L84.2,261.0 L87.0,261.5 L83.8,263.0 Z M87.5,263.5 L90.9,262.0 L93.7,262.5 L90.5,264.0 Z M94.4,264.5 L97.8,263.0 L100.6,263.5 L97.4,265.0 Z M101.3,265.6 L104.7,264.1 L107.5,264.6 L104.3,266.1 Z M108.3,266.6 L111.7,265.1 L114.5,265.6 L111.3,267.1 Z M115.4,267.7 L118.8,266.2 L121.6,266.7 L118.4,268.2 Z M122.6,268.8 L126.0,267.3 L128.8,267.8 L125.6,269.3 Z M129.9,269.9 L133.3,268.4 L136.1,268.9 L132.9,270.4 Z M137.3,271.0 L140.7,269.5 L143.5,270.0 L140.3,271.5 Z M144.8,272.1 L148.2,270.6 L151.0,271.1 L147.8,272.6 Z M152.5,273.3 L155.9,271.8 L158.7,272.3 L155.5,273.8 Z M160.2,274.5 L163.6,273.0 L166.4,273.5 L163.2,275.0 Z M168.0,275.6 L171.4,274.1 L174.2,274.6 L171.0,276.1 Z M175.9,276.8 L179.3,275.3 L182.1,275.8 L178.9,277.3 Z M80.4,258.9 L83.8,257.4 L86.6,257.9 L83.4,259.4 Z M86.9,259.9 L90.3,258.4 L93.1,258.9 L89.9,260.4 Z M93.6,260.9 L97.0,259.4 L99.8,259.9 L96.6,261.4 Z M100.3,261.9 L103.7,260.4 L106.5,260.9 L103.3,262.4 Z M107.1,262.9 L110.5,261.4 L113.3,261.9 L110.1,263.4 Z M114.0,263.9 L117.4,262.4 L120.2,262.9 L117.0,264.4 Z M121.0,264.9 L124.4,263.4 L127.2,263.9 L124.0,265.4 Z M128.1,266.0 L131.5,264.5 L134.3,265.0 L131.1,266.5 Z M135.3,267.0 L138.7,265.5 L141.5,266.0 L138.3,267.5 Z M142.5,268.1 L145.9,266.6 L148.7,267.1 L145.5,268.6 Z M149.9,269.2 L153.3,267.7 L156.1,268.2 L152.9,269.7 Z M157.4,270.3 L160.8,268.8 L163.6,269.3 L160.4,270.8 Z M165.0,271.4 L168.4,269.9 L171.2,270.4 L168.0,271.9 Z M172.7,272.6 L176.1,271.1 L178.9,271.6 L175.7,273.1 Z M180.5,273.7 L183.9,272.2 L186.7,272.7 L183.5,274.2 Z M86.3,256.5 L89.7,255.0 L92.5,255.5 L89.3,257.0 Z M92.8,257.5 L96.2,256.0 L99.0,256.5 L95.8,258.0 Z M99.3,258.4 L102.7,256.9 L105.5,257.4 L102.3,258.9 Z M106.0,259.4 L109.4,257.9 L112.2,258.4 L109.0,259.9 Z M112.7,260.3 L116.1,258.8 L118.9,259.3 L115.7,260.8 Z M119.5,261.3 L122.9,259.8 L125.7,260.3 L122.5,261.8 Z M126.4,262.3 L129.8,260.8 L132.6,261.3 L129.4,262.8 Z M133.3,263.3 L136.7,261.8 L139.5,262.3 L136.3,263.8 Z M140.4,264.3 L143.8,262.8 L146.6,263.3 L143.4,264.8 Z M147.5,265.4 L150.9,263.9 L153.7,264.4 L150.5,265.9 Z M154.8,266.4 L158.2,264.9 L161.0,265.4 L157.8,266.9 Z M162.1,267.5 L165.5,266.0 L168.3,266.5 L165.1,268.0 Z M169.6,268.6 L173.0,267.1 L175.8,267.6 L172.6,269.1 Z M177.1,269.7 L180.5,268.2 L183.3,268.7 L180.1,270.2 Z M184.8,270.8 L188.2,269.3 L191.0,269.8 L187.8,271.3 Z M92.1,254.2 L95.5,252.7 L98.3,253.2 L95.1,254.7 Z M98.5,255.1 L101.9,253.6 L104.7,254.1 L101.5,255.6 Z M104.9,256.0 L108.3,254.5 L111.1,255.0 L107.9,256.5 Z M111.4,257.0 L114.8,255.5 L117.6,256.0 L114.4,257.5 Z M118.0,257.9 L121.4,256.4 L124.2,256.9 L121.0,258.4 Z M124.7,258.8 L128.1,257.3 L130.9,257.8 L127.7,259.3 Z M131.5,259.8 L134.9,258.3 L137.7,258.8 L134.5,260.3 Z M138.3,260.8 L141.7,259.3 L144.5,259.8 L141.3,261.3 Z M145.3,261.8 L148.7,260.3 L151.5,260.8 L148.3,262.3 Z M152.3,262.7 L155.7,261.2 L158.5,261.7 L155.3,263.2 Z M159.4,263.8 L162.8,262.3 L165.6,262.8 L162.4,264.3 Z M166.6,264.8 L170.0,263.3 L172.8,263.8 L169.6,265.3 Z M174.0,265.8 L177.4,264.3 L180.2,264.8 L177.0,266.3 Z M181.4,266.9 L184.8,265.4 L187.6,265.9 L184.4,267.4 Z M188.9,267.9 L192.3,266.4 L195.1,266.9 L191.9,268.4 Z M97.6,252.0 L101.0,250.5 L103.8,251.0 L100.6,252.5 Z M103.9,252.9 L107.3,251.4 L110.1,251.9 L106.9,253.4 Z M110.2,253.8 L113.6,252.3 L116.4,252.8 L113.2,254.3 Z M116.6,254.6 L120.0,253.1 L122.8,253.6 L119.6,255.1 Z M123.2,255.5 L126.6,254.0 L129.4,254.5 L126.2,256.0 Z M129.7,256.5 L133.1,255.0 L135.9,255.5 L132.7,257.0 Z M136.4,257.4 L139.8,255.9 L142.6,256.4 L139.4,257.9 Z M143.1,258.3 L146.5,256.8 L149.3,257.3 L146.1,258.8 Z M150.0,259.3 L153.4,257.8 L156.2,258.3 L153.0,259.8 Z M156.9,260.2 L160.3,258.7 L163.1,259.2 L159.9,260.7 Z M163.9,261.2 L167.3,259.7 L170.1,260.2 L166.9,261.7 Z M171.0,262.2 L174.4,260.7 L177.2,261.2 L174.0,262.7 Z M178.2,263.2 L181.6,261.7 L184.4,262.2 L181.2,263.7 Z M185.4,264.2 L188.8,262.7 L191.6,263.2 L188.4,264.7 Z M192.8,265.2 L196.2,263.7 L199.0,264.2 L195.8,265.7 Z" fill="#151515" opacity="0.8"/><path d="M31.8,226.3 L43.5,232.0 L55.0,237.5 L67.0,243.2 L77.1,248.5 L89.4,254.6 L101.8,260.6 L113.0,266.0 L119.0,269.0 L121.5,269.8 L125.0,268.3 L130.0,265.6 L143.0,259.8 L159.4,253.2 L171.0,248.4 L178.0,245.0 L183.0,241.5 L188.0,236.8 L193.0,231.5 L197.5,225.5 L201.8,218.5 L192.7,222.3 L179.5,226.5 L163.0,228.9 L146.5,228.1 L130.0,225.6 L118.0,220.5 L108.0,215.5 L100.4,211.2 L94.2,217.4 L86.8,225.4 L76.9,231.6 L67.0,234.0 L55.9,233.2 L43.5,230.3Z" fill="url(#ddk)"/><path d="M31.8,226.3 C31.8,226.4 41.4,230.6 43.5,231.6 C45.6,232.6 50.9,235.7 52.4,236.5 C53.9,237.3 57.3,239.3 58.5,240.0 C59.7,240.7 63.5,242.4 64.7,243.0 C65.9,243.6 69.0,245.0 70.9,245.6 C72.8,246.2 80.8,248.3 83.3,248.8 C85.8,249.3 92.9,250.1 95.6,250.2 C98.3,250.3 107.4,250.4 110.0,250.2 C112.6,250.0 119.5,248.6 122.0,248.0 C124.5,247.4 132.6,244.8 135.0,244.0 C137.4,243.2 144.2,240.7 146.0,240.0 C147.8,239.3 151.7,237.5 153.1,237.5 C154.5,237.5 158.4,239.7 159.7,240.3 C161.0,240.9 165.0,242.8 166.3,243.3 C167.6,243.8 171.7,244.9 172.9,245.0 C174.1,245.1 177.0,244.9 178.0,244.6 C179.0,244.2 182.0,242.3 183.0,241.5 C184.0,240.7 187.0,237.8 188.0,236.8 C189.0,235.8 192.1,232.6 193.0,231.5 C193.9,230.4 196.6,226.8 197.5,225.5 C198.4,224.2 202.3,218.8 201.8,218.5 C201.3,218.2 194.9,221.5 192.7,222.3 C190.5,223.1 182.5,225.8 179.5,226.5 C176.5,227.2 166.3,228.7 163.0,228.9 C159.7,229.1 149.8,228.4 146.5,228.1 C143.2,227.8 132.8,226.4 130.0,225.6 C127.2,224.8 120.2,221.5 118.0,220.5 C115.8,219.5 109.8,216.4 108.0,215.5 C106.2,214.6 101.8,211.0 100.4,211.2 C99.0,211.4 95.6,216.0 94.2,217.4 C92.8,218.8 88.5,224.0 86.8,225.4 C85.1,226.8 78.9,230.7 76.9,231.6 C74.9,232.5 69.1,233.8 67.0,234.0 C64.9,234.2 58.2,233.6 55.9,233.2 C53.5,232.8 45.9,231.0 43.5,230.3 C41.1,229.6 31.8,226.2 31.8,226.3Z" fill="url(#dol)"/><line x1="27.5" y1="224.2" x2="100.4" y2="209.9" stroke="#c4c4c4" stroke-width="0.8"/><line x1="153.5" y1="237.6" x2="155.2" y2="341.4" stroke="#9a8a50" stroke-width="0.6" stroke-opacity="0.7"/><circle cx="121.5" cy="270" r="1.6" fill="#111"/><text x="22.6" y="220.2" font-size="9.8" text-anchor="start" font-weight="normal" fill="#1a1a1a" transform="rotate(-10 29 217)">0.8</text><text x="48.0" y="213.5" font-size="9.8" text-anchor="start" font-weight="normal" fill="#1a1a1a" font-style="italic" transform="rotate(-11 48 213.5)">k<tspan font-size="7" dy="2.3">x</tspan><tspan dy="-2.3" dx="0.9">a</tspan><tspan dx="0.7">/</tspan><tspan dx="0.4" font-family="Liberation Serif" font-size="10.5">π</tspan></text><text x="80.5" y="208.2" font-size="9.8" text-anchor="start" font-weight="normal" fill="#1a1a1a" transform="rotate(-10 87 205)">1.2</text><text x="25.4" y="251.2" font-size="9.8" text-anchor="end" font-weight="normal" fill="#1a1a1a" >−0.75</text><text x="25.4" y="316.0" font-size="9.8" text-anchor="end" font-weight="normal" fill="#1a1a1a" >−1.2</text><text x="10.4" y="283.0" font-size="9.8" text-anchor="middle" font-weight="normal" fill="#1a1a1a" transform="rotate(-90 10.4 283)">Energy</text><text x="21.5" y="334.0" font-size="9.8" text-anchor="start" font-weight="normal" fill="#1a1a1a" >0.8</text><text x="67.0" y="352.0" font-size="9.8" text-anchor="start" font-weight="normal" fill="#1a1a1a" font-style="italic" >k<tspan font-size="7" dy="2.3">y</tspan><tspan dy="-2.3" dx="0.9">a</tspan><tspan dx="0.7">/</tspan><tspan dx="0.4" font-family="Liberation Serif" font-size="10.5">π</tspan></text><text x="142.3" y="355.4" font-size="9.8" text-anchor="start" font-weight="normal" fill="#1a1a1a" >1.2</text><text x="227.0" y="198.2" font-size="16.0" text-anchor="start" font-weight="bold" fill="#000" >e</text><g stroke="#c4c4c4" stroke-width="0.8" fill="none"><path d="M250.5,226.5 L322,206.5 L431.3,214.1 L432.3,300 L384.2,343.6 L252.6,322.7 Z"/><line x1="250.5" y1="226.8" x2="385.3" y2="239.5" /><line x1="385.3" y1="239.5" x2="431.3" y2="214.1" /><line x1="385.3" y1="239.5" x2="385.3" y2="343.6" /><line x1="322.1" y1="207.0" x2="322.1" y2="290.0" /></g><line x1="259.4" y1="224.0" x2="259.4" y2="226.5" stroke="#c4c4c4" stroke-width="0.7"/><line x1="268.4" y1="221.5" x2="268.4" y2="224.0" stroke="#c4c4c4" stroke-width="0.7"/><line x1="277.3" y1="219.0" x2="277.3" y2="221.5" stroke="#c4c4c4" stroke-width="0.7"/><line x1="286.2" y1="216.5" x2="286.2" y2="219.0" stroke="#c4c4c4" stroke-width="0.7"/><line x1="295.2" y1="214.0" x2="295.2" y2="216.5" stroke="#c4c4c4" stroke-width="0.7"/><line x1="304.1" y1="211.5" x2="304.1" y2="214.0" stroke="#c4c4c4" stroke-width="0.7"/><line x1="313.1" y1="209.0" x2="313.1" y2="211.5" stroke="#c4c4c4" stroke-width="0.7"/><line x1="265.8" y1="324.8" x2="265.8" y2="322.3" stroke="#c4c4c4" stroke-width="0.7"/><line x1="278.9" y1="326.9" x2="278.9" y2="324.4" stroke="#c4c4c4" stroke-width="0.7"/><line x1="292.1" y1="329.0" x2="292.1" y2="326.5" stroke="#c4c4c4" stroke-width="0.7"/><line x1="305.2" y1="331.1" x2="305.2" y2="328.6" stroke="#c4c4c4" stroke-width="0.7"/><line x1="318.4" y1="333.1" x2="318.4" y2="330.6" stroke="#c4c4c4" stroke-width="0.7"/><line x1="331.6" y1="335.2" x2="331.6" y2="332.7" stroke="#c4c4c4" stroke-width="0.7"/><line x1="344.7" y1="337.3" x2="344.7" y2="334.8" stroke="#c4c4c4" stroke-width="0.7"/><line x1="357.9" y1="339.4" x2="357.9" y2="336.9" stroke="#c4c4c4" stroke-width="0.7"/><line x1="371.0" y1="341.5" x2="371.0" y2="339.0" stroke="#c4c4c4" stroke-width="0.7"/><line x1="252.6" y1="238.5" x2="255.1" y2="238.5" stroke="#c4c4c4" stroke-width="0.7"/><line x1="252.6" y1="250.6" x2="255.1" y2="250.6" stroke="#c4c4c4" stroke-width="0.7"/><line x1="252.6" y1="262.6" x2="255.1" y2="262.6" stroke="#c4c4c4" stroke-width="0.7"/><line x1="252.6" y1="274.6" x2="255.1" y2="274.6" stroke="#c4c4c4" stroke-width="0.7"/><line x1="252.6" y1="286.6" x2="255.1" y2="286.6" stroke="#c4c4c4" stroke-width="0.7"/><line x1="252.6" y1="298.6" x2="255.1" y2="298.6" stroke="#c4c4c4" stroke-width="0.7"/><line x1="252.6" y1="310.7" x2="255.1" y2="310.7" stroke="#c4c4c4" stroke-width="0.7"/><path d="M256.4,312.7 L278.4,296.7 L290.5,289.9 L302.5,280.0 L313.4,274.0 L334.4,266.1 L355.0,258.7 L367.5,257.2 L381.2,258.6 L395.0,262.7 L408.7,270.9 L419.7,280.5 L427.9,292.9 L430.7,298.4 L383.1,338.2 L373.2,327.2 L364.4,318.5 L355.7,311.9 L344.7,307.5 L333.8,306.4 L322.8,305.8 L311.9,304.2 L301.0,302.0 L296.0,299.8 L288.3,298.5Z" fill="url(#elo)"/><path d="M256.4,312.7 L278.4,296.7 L290.5,289.9 L302.5,280.0 L313.4,274.0 L334.4,266.1 L355.0,258.7 L367.5,257.2 L381.2,258.6 L395.0,262.7 L408.7,270.9 L419.7,280.5 L427.9,292.9 L430.7,298.4 L383.1,338.2 L373.2,327.2 L364.4,318.5 L355.7,311.9 L344.7,307.5 L333.8,306.4 L322.8,305.8 L311.9,304.2 L301.0,302.0 L296.0,299.8 L288.3,298.5Z" fill="url(#elsh)"/><path d="M256.4,312.7 L262,307.8 L267.4,303.4 L272,300.2 L277.3,297.3 L285,297 L288.3,298.5 L280,301.8 L273.6,305.2 L265,308.8 Z" fill="url(#emr)"/><path d="M273.0,272.2 l3.6,0.6 M283.2,273.8 l3.6,0.6 M293.4,275.3 l3.6,0.6 M303.6,276.8 l3.6,0.6 M313.8,278.4 l3.6,0.6 M324.0,279.9 l3.6,0.6 M334.2,281.5 l3.6,0.6 M344.4,283.1 l3.6,0.6 M354.6,284.6 l3.6,0.6 M364.8,286.1 l3.6,0.6 M375.0,287.7 l3.6,0.6" stroke="#10101a" stroke-width="1.4" stroke-linecap="round" opacity="0.8"/><path d="M322.1,207.7 L255.8,261.5 L263.2,265.3 L276.4,268.1 L297.4,271.6 L313.4,273.5 L334.4,279.0 L355.0,282.0 L373.0,280.5 L384.0,277.8 L392.2,270.9 L397.7,262.7 L405.9,249.0 L416.9,232.5 L429.3,216.5 L422.4,221.5 L408.7,229.7 L395.0,233.8 L381.2,235.2 L367.5,233.8 L353.7,229.3 L346.0,225.2 L338.0,219.6 L330.0,213.6Z" fill="url(#eup)" fill-opacity="0.95" stroke="#2a2a3a" stroke-width="0.5" stroke-opacity="0.55"/><path d="M284.0,268.6 l3,0.4 M293.6,268.4 l3,0.4 M303.2,268.2 l3,0.4 M312.8,268.0 l3,0.4 M322.4,267.8 l3,0.4 M332.0,267.6 l3,0.4 M341.6,267.4 l3,0.4 M296.0,264.2 l3,0.4 M305.6,263.9 l3,0.4 M315.2,263.6 l3,0.4 M324.8,263.3 l3,0.4 M334.4,263.0 l3,0.4 M344.0,262.7 l3,0.4 M306.0,259.6 l3,0.4 M315.6,259.2 l3,0.4 M325.2,258.8 l3,0.4 M334.8,258.4 l3,0.4 M344.4,258.0 l3,0.4" stroke="#1c2050" stroke-width="1.4" stroke-linecap="round" opacity="0.4"/><line x1="385.3" y1="280.0" x2="385.3" y2="338.0" stroke="#c8d0f0" stroke-width="0.6" stroke-opacity="0.5"/><path d="M313.4,274 L334.4,266.1 L355,258.7 L367.5,257.2 L381.2,258.6 L395,262.7 L392.2,270.9 L384,277.8 L373,280.5 L355,282 L334.4,279 Z" fill="#b83010" fill-opacity="0.35"/><path d="M300,276 L313.4,274 L334.4,266.1 L355,258.7 L367.5,257.2 L381.2,258.6 L395,262.7" fill="none" stroke="#3a2020" stroke-width="0.6" stroke-opacity="0.6"/><rect x="436.9" y="204.3" width="8.4" height="112.9" fill="url(#ecb)"/><line x1="445.3" y1="215.6" x2="443.5" y2="215.6" stroke="#ffffff" stroke-width="0.6"/><line x1="445.3" y1="226.9" x2="443.5" y2="226.9" stroke="#ffffff" stroke-width="0.6"/><line x1="445.3" y1="238.2" x2="443.5" y2="238.2" stroke="#ffffff" stroke-width="0.6"/><line x1="445.3" y1="249.5" x2="443.5" y2="249.5" stroke="#ffffff" stroke-width="0.6"/><line x1="445.3" y1="260.8" x2="443.5" y2="260.8" stroke="#ffffff" stroke-width="0.6"/><line x1="445.3" y1="272.0" x2="443.5" y2="272.0" stroke="#ffffff" stroke-width="0.6"/><line x1="445.3" y1="283.3" x2="443.5" y2="283.3" stroke="#ffffff" stroke-width="0.6"/><line x1="445.3" y1="294.6" x2="443.5" y2="294.6" stroke="#ffffff" stroke-width="0.6"/><line x1="445.3" y1="305.9" x2="443.5" y2="305.9" stroke="#ffffff" stroke-width="0.6"/><text x="447.6" y="207.3" font-size="9.8" text-anchor="start" font-weight="normal" fill="#1a1a1a" >1.0</text><text x="447.6" y="322.6" font-size="9.8" text-anchor="start" font-weight="normal" fill="#1a1a1a" >0.0</text><text x="0" y="0" font-size="11" fill="#1a1a1a" transform="translate(459.5,234) rotate(90)"><tspan font-size="14" dy="1">⟨</tspan><tspan font-style="italic" dy="-1">b̂</tspan><tspan font-size="7" dy="-4">†</tspan><tspan font-size="7" dx="-3" dy="7.5">−1,<tspan font-style="italic">k</tspan></tspan><tspan font-style="italic" dy="-3.5">b̂</tspan><tspan font-size="7" dy="3">−1,<tspan font-style="italic">k</tspan></tspan><tspan font-size="14" dy="-2">⟩</tspan></text><text x="242.5" y="222.0" font-size="9.8" text-anchor="start" font-weight="normal" fill="#1a1a1a" transform="rotate(-12 252 219)">−0.1</text><text x="272.0" y="215.5" font-size="9.8" text-anchor="start" font-weight="normal" fill="#1a1a1a" font-style="italic" transform="rotate(-14 272 215.5)">k<tspan font-size="7" dy="2.3">d</tspan><tspan dy="-2.3" dx="0.9">a</tspan><tspan dx="0.7">/</tspan><tspan dx="0.4" font-family="Liberation Serif" font-size="10.5">π</tspan></text><text x="303.4" y="205.6" font-size="9.8" text-anchor="start" font-weight="normal" fill="#1a1a1a" transform="rotate(-12 310 203)">0.1</text><text x="245.5" y="236.2" font-size="9.8" text-anchor="end" font-weight="normal" fill="#1a1a1a" >0.2</text><text x="245.8" y="327.2" font-size="9.8" text-anchor="end" font-weight="normal" fill="#1a1a1a" >−0.9</text><text x="241.6" y="277.6" font-size="9.8" text-anchor="middle" font-weight="normal" fill="#1a1a1a" transform="rotate(-90 241.6 277.6)">Energy</text><text x="265.8" y="340.5" font-size="9.8" text-anchor="start" font-weight="normal" fill="#1a1a1a" font-style="italic" >0.9</text><text x="297.4" y="356.5" font-size="9.8" text-anchor="start" font-weight="normal" fill="#1a1a1a" font-style="italic" >k<tspan font-size="7" dy="2.3">y</tspan><tspan dy="-2.3" dx="0.9">a</tspan><tspan dx="0.7">/</tspan><tspan dx="0.4" font-family="Liberation Serif" font-size="10.5">π</tspan></text><text x="350.0" y="360.4" font-size="9.8" text-anchor="start" font-weight="normal" fill="#1a1a1a" font-style="italic" >1.1</text><text x="487.2" y="198.3" font-size="16.0" text-anchor="start" font-weight="bold" fill="#000" >f</text><g stroke="#c4c4c4" stroke-width="0.8" fill="none"><line x1="507.4" y1="198.3" x2="663.8" y2="198.6" /><line x1="518.7" y1="201.8" x2="618.2" y2="201.8" /><line x1="507.4" y1="198.3" x2="518.7" y2="201.8" /><line x1="618.2" y1="197.2" x2="663.8" y2="200.4" /><line x1="507.4" y1="198.3" x2="509.4" y2="292.2" /><line x1="518.7" y1="201.8" x2="518.7" y2="287.7" /><line x1="618.2" y1="197.2" x2="618.2" y2="285.4" /><line x1="663.2" y1="200.0" x2="662.7" y2="316.2" /><line x1="509.4" y1="292.2" x2="519.5" y2="328.2" /><line x1="519.5" y1="328.2" x2="662.7" y2="316.5" /><line x1="518.7" y1="287.7" x2="618.6" y2="285.4" /><line x1="618.6" y1="285.4" x2="662.7" y2="316.5" /></g><line x1="533.8" y1="327.0" x2="533.8" y2="324.5" stroke="#c4c4c4" stroke-width="0.7"/><line x1="548.1" y1="325.9" x2="548.1" y2="323.4" stroke="#c4c4c4" stroke-width="0.7"/><line x1="562.5" y1="324.7" x2="562.5" y2="322.2" stroke="#c4c4c4" stroke-width="0.7"/><line x1="576.8" y1="323.5" x2="576.8" y2="321.0" stroke="#c4c4c4" stroke-width="0.7"/><line x1="591.1" y1="322.4" x2="591.1" y2="319.9" stroke="#c4c4c4" stroke-width="0.7"/><line x1="605.4" y1="321.2" x2="605.4" y2="318.7" stroke="#c4c4c4" stroke-width="0.7"/><line x1="619.7" y1="320.0" x2="619.7" y2="317.5" stroke="#c4c4c4" stroke-width="0.7"/><line x1="634.1" y1="318.8" x2="634.1" y2="316.3" stroke="#c4c4c4" stroke-width="0.7"/><line x1="648.4" y1="317.7" x2="648.4" y2="315.2" stroke="#c4c4c4" stroke-width="0.7"/><line x1="622.8" y1="197.5" x2="622.8" y2="200.0" stroke="#c4c4c4" stroke-width="0.7"/><line x1="627.3" y1="197.8" x2="627.3" y2="200.3" stroke="#c4c4c4" stroke-width="0.7"/><line x1="631.9" y1="198.2" x2="631.9" y2="200.7" stroke="#c4c4c4" stroke-width="0.7"/><line x1="636.4" y1="198.5" x2="636.4" y2="201.0" stroke="#c4c4c4" stroke-width="0.7"/><line x1="641.0" y1="198.8" x2="641.0" y2="201.3" stroke="#c4c4c4" stroke-width="0.7"/><line x1="645.6" y1="199.1" x2="645.6" y2="201.6" stroke="#c4c4c4" stroke-width="0.7"/><line x1="650.1" y1="199.4" x2="650.1" y2="201.9" stroke="#c4c4c4" stroke-width="0.7"/><line x1="654.7" y1="199.8" x2="654.7" y2="202.3" stroke="#c4c4c4" stroke-width="0.7"/><line x1="659.2" y1="200.1" x2="659.2" y2="202.6" stroke="#c4c4c4" stroke-width="0.7"/><line x1="663.0" y1="213.3" x2="660.5" y2="213.3" stroke="#c4c4c4" stroke-width="0.7"/><line x1="662.9" y1="226.1" x2="660.4" y2="226.1" stroke="#c4c4c4" stroke-width="0.7"/><line x1="662.9" y1="239.0" x2="660.4" y2="239.0" stroke="#c4c4c4" stroke-width="0.7"/><line x1="662.9" y1="251.9" x2="660.4" y2="251.9" stroke="#c4c4c4" stroke-width="0.7"/><line x1="662.8" y1="264.7" x2="660.3" y2="264.7" stroke="#c4c4c4" stroke-width="0.7"/><line x1="662.8" y1="277.6" x2="660.3" y2="277.6" stroke="#c4c4c4" stroke-width="0.7"/><line x1="662.8" y1="290.5" x2="660.3" y2="290.5" stroke="#c4c4c4" stroke-width="0.7"/><line x1="662.7" y1="303.3" x2="660.2" y2="303.3" stroke="#c4c4c4" stroke-width="0.7"/><text x="666.0" y="210.2" font-size="9.8" text-anchor="start" font-weight="normal" fill="#1a1a1a" >0.0</text><text x="666.0" y="316.6" font-size="9.8" text-anchor="start" font-weight="normal" fill="#1a1a1a" >−1.8</text><text x="681.0" y="248.0" font-size="9.8" text-anchor="middle" font-weight="normal" fill="#1a1a1a" transform="rotate(-90 681 248)">Energy</text><text x="505.5" y="293.8" font-size="9.8" text-anchor="end" font-weight="normal" fill="#1a1a1a" >0.8</text><text x="515.5" y="334.6" font-size="9.8" text-anchor="end" font-weight="normal" fill="#1a1a1a" >1.2</text><text x="515.5" y="342.8" font-size="9.8" text-anchor="start" font-weight="normal" fill="#1a1a1a" >0.55</text><text x="654.0" y="331.9" font-size="9.8" text-anchor="start" font-weight="normal" fill="#1a1a1a" >0.8</text><text x="578.0" y="340.5" font-size="9.8" text-anchor="start" font-weight="normal" fill="#1a1a1a" font-style="italic" >k<tspan font-size="7" dy="2.3">z</tspan><tspan dy="-2.3" dx="0.9">a</tspan><tspan dx="0.7">/</tspan><tspan dx="0.4" font-family="Liberation Serif" font-size="10.5">π</tspan></text><text x="0.0" y="0.0" font-size="9.8" text-anchor="start" font-weight="normal" fill="#1a1a1a" font-style="italic" transform="translate(485.5,301.5) rotate(90)">k<tspan font-size="7" dy="2.3">y</tspan><tspan dy="-2.3" dx="0.9">a</tspan><tspan dx="0.7">/</tspan><tspan dx="0.4" font-family="Liberation Serif" font-size="10.5">π</tspan></text>
</svg>
<div style="position:absolute;left:0;top:0;width:685px;height:364px;clip-path:path('M510.8 220.1 L521.5 225.6 L534.7 230.5 L547.9 233.5 L557.8 233.0 L566.0 230.5 L575.0 225.5 L587.9 217.3 L605.7 207.5 L612.0 204.2 L616.8 203.0 L620.0 204.5 L623.6 207.5 L632.5 211.1 L641.4 212.0 L650.4 210.7 L659.3 207.9 L650.0 212.5 L641.4 216.4 L623.6 225.4 L605.7 234.3 L591.4 241.4 L582.5 245.5 L577.5 249.2 L567.7 247.0 L551.2 242.9 L534.7 237.1 L520.7 231.4 Z');background:linear-gradient(transparent, transparent), conic-gradient(from 0deg at 577.5px 249.2px, #a09494 0deg, #6a6a84 10deg, #3e4470 22deg, #32385f 45deg, #30365f 90deg, #30365f 269deg, #c42818 270deg, #cc2c1a 289deg, #e05a1e 296deg, #ec8a2a 303deg, #f0b040 312deg, #e8c070 326deg, #c8b0a0 340deg, #a89a98 352deg, #a09494 360deg)"></div><div style="position:absolute;left:0;top:0;width:685px;height:364px;clip-path:path('M510.6 287.5 L518.0 281.5 L525.6 275.7 L532.5 269.5 L539.3 263.4 L545.0 258.2 L550.3 253.9 L555.0 251.2 L559.9 249.6 L565.0 248.8 L569.6 248.5 L574.0 248.7 L577.5 249.3 L586.5 251.5 L603.0 255.7 L619.4 258.9 L627.7 260.6 L635.9 264.7 L645.8 271.3 L659.8 280.4 L644.1 277.1 L632.6 273.8 L619.4 271.3 L603.0 269.7 L595.0 269.6 L586.0 270.4 L582.3 273.3 L572.7 278.1 L563.1 284.8 L553.5 293.5 L543.8 302.1 L534.2 310.8 L521.7 321.3 L518.0 310.0 L513.0 296.0 Z');background:linear-gradient(transparent, transparent), conic-gradient(from 0deg at 577.5px 249.2px, #c42818 0deg, #c42818 90deg, #cc2c1a 115deg, #e05a1e 123deg, #ec8a2a 131deg, #f0b040 140deg, #e0b070 160deg, #c0a080 178deg, #8a8090 192deg, #5a5c7c 204deg, #363c66 218deg, #2a3058 250deg, #2a3058 270deg, #c42818 271deg)"></div>
<svg width="685" height="364" viewBox="0 0 685 364">
<path d="M510.8 220.1 L521.5 225.6 L534.7 230.5 L547.9 233.5 L557.8 233.0 L566.0 230.5 L575.0 225.5 L587.9 217.3 L605.7 207.5 L612.0 204.2 L616.8 203.0 L620.0 204.5 L623.6 207.5 L632.5 211.1 L641.4 212.0 L650.4 210.7 L659.3 207.9 L650.0 212.5 L641.4 216.4 L623.6 225.4 L605.7 234.3 L591.4 241.4 L582.5 245.5 L577.5 249.2 L567.7 247.0 L551.2 242.9 L534.7 237.1 L520.7 231.4 Z" fill="none" stroke="#2a1a14" stroke-width="0.6" stroke-opacity="0.6"/><path d="M510.6 287.5 L518.0 281.5 L525.6 275.7 L532.5 269.5 L539.3 263.4 L545.0 258.2 L550.3 253.9 L555.0 251.2 L559.9 249.6 L565.0 248.8 L569.6 248.5 L574.0 248.7 L577.5 249.3 L586.5 251.5 L603.0 255.7 L619.4 258.9 L627.7 260.6 L635.9 264.7 L645.8 271.3 L659.8 280.4 L644.1 277.1 L632.6 273.8 L619.4 271.3 L603.0 269.7 L595.0 269.6 L586.0 270.4 L582.3 273.3 L572.7 278.1 L563.1 284.8 L553.5 293.5 L543.8 302.1 L534.2 310.8 L521.7 321.3 L518.0 310.0 L513.0 296.0 Z" fill="none" stroke="#2a1a14" stroke-width="0.6" stroke-opacity="0.6"/><circle cx="577.5" cy="249.3" r="1.7" fill="#000"/>
</svg>
</div></body></html>
